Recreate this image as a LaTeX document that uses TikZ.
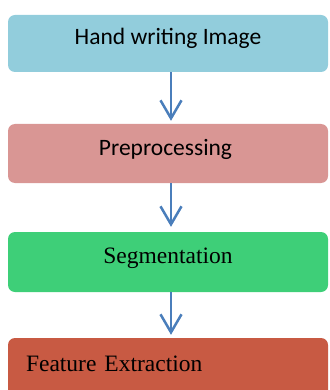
\documentclass[tikz,border=0pt]{standalone}
\usepackage{fontspec}
\newfontfamily\calfont{Carlito}
\newfontfamily\tmsfont{Liberation Serif}
\usetikzlibrary{arrows.meta}
\definecolor{boxblue}{HTML}{92CDDC}
\definecolor{boxpink}{HTML}{D99694}
\definecolor{boxgreen}{HTML}{3ECF78}
\definecolor{boxred}{HTML}{C85A43}
\definecolor{arrowblue}{HTML}{4A7EBB}
\tikzset{
  stagebox/.style={rectangle, rounded corners=7pt, minimum width=320pt, minimum height=58pt,
    inner sep=0pt, text height=12pt, text depth=9pt, text=black},
  flowarrow/.style={draw=arrowblue, line width=2.5pt,
    -{Straight Barb[length=18pt,width=21pt,line width=2.5pt]}, shorten >=3pt}
}
\begin{document}
\begin{tikzpicture}[x=1pt,y=1pt]
\useasboundingbox (0,0) rectangle (329,-390);
\clip (0,0) rectangle (329,-390);
\node[stagebox, fill=boxblue, minimum height=57pt] (b1) at (168,-43.5) {\calfont\fontsize{23.5}{28}\selectfont Hand writing Image};
\node[stagebox, fill=boxpink, minimum height=59pt] (b2) at (168,-153.5) {\calfont\fontsize{23.5}{28}\selectfont\hspace*{-5pt}Preprocessing};
\node[stagebox, fill=boxgreen, minimum height=60pt] (b3) at (168,-262) {\tmsfont\fontsize{23.5}{28}\selectfont Segmentation};
\node[stagebox, fill=boxred, minimum height=64pt, align=left, text width=284pt, inner xsep=18pt] (b4) at (168,-370) {\tmsfont\fontsize{23.5}{28}\selectfont Feature\hspace{8pt}Extraction};
\draw[flowarrow] ([xshift=3pt]b1.south) -- ([xshift=3pt]b2.north);
\draw[flowarrow, shorten >=5pt] ([xshift=3pt]b2.south) -- ([xshift=3pt]b3.north);
\draw[flowarrow] ([xshift=3pt]b3.south) -- ([xshift=3pt]b4.north);
\end{tikzpicture}
\end{document}
